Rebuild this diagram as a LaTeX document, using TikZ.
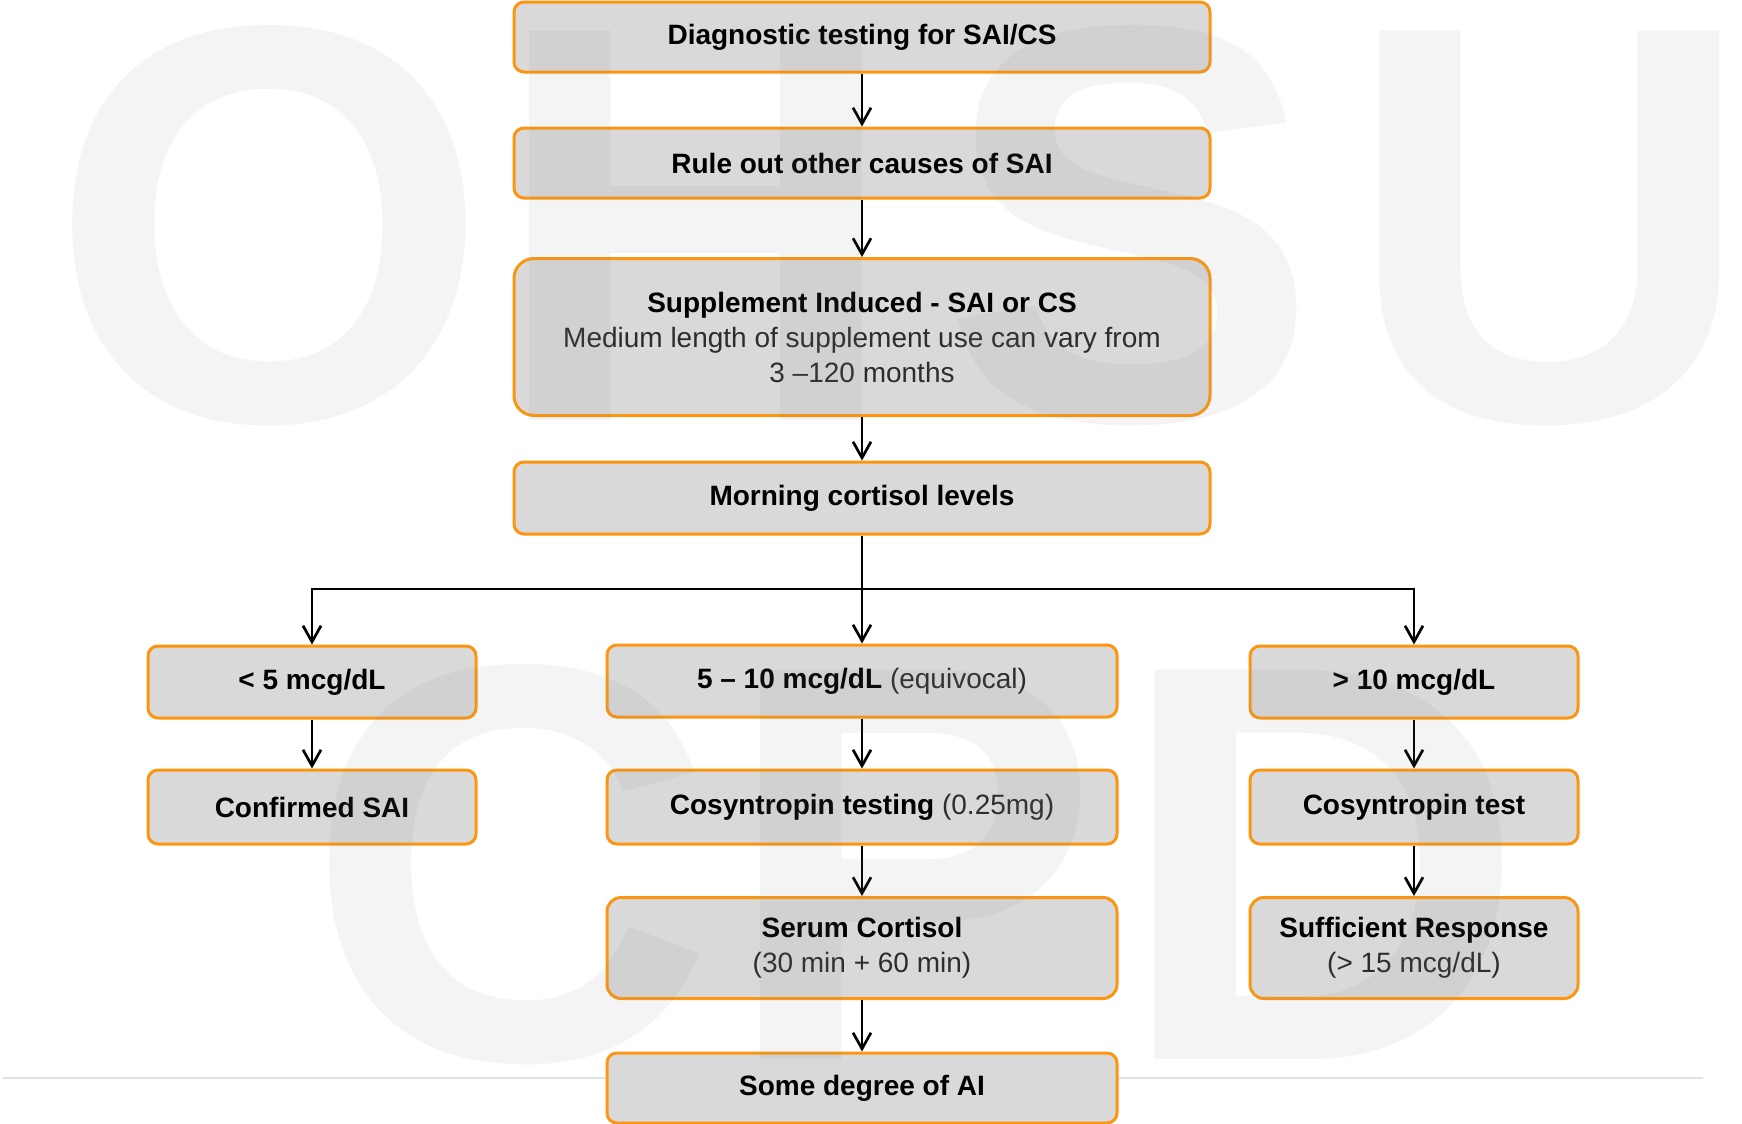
\documentclass[tikz,border=0pt]{standalone}
\usepackage{fontspec}
\setmainfont{Liberation Sans}
\usetikzlibrary{arrows.meta}

\definecolor{boxorange}{RGB}{252,150,18}
\definecolor{boxgray}{RGB}{217,217,217}
\definecolor{plaingray}{RGB}{45,45,45}
\definecolor{rulegray}{RGB}{222,227,237}

\newcommand{\plaintxt}[1]{{\mdseries\color{plaingray}#1}}

\tikzset{
  flowbox/.style={draw=boxorange, fill=boxgray, line width=1.5pt, rounded corners=5pt,
    align=center, inner sep=0pt, font=\fontsize{14pt}{17.5pt}\selectfont\bfseries},
  widebox/.style={flowbox, minimum width=348pt, minimum height=35pt},
  midbox/.style={flowbox, minimum width=255pt, minimum height=36pt},
  sidebox/.style={flowbox, minimum width=164pt, minimum height=36pt},
  watermark/.style={text=black!50, text opacity=0.085, inner sep=0pt, anchor=base,
    font=\fontsize{283pt}{283pt}\selectfont\bfseries}
}

\begin{document}
\begin{tikzpicture}[x=0.5pt, y=-0.5pt, >={Straight Barb[length=8pt, width=9pt]}, line width=1.35pt]
  \useasboundingbox (0,0) rectangle (1742,1124);
  \clip (0,0) rectangle (1742,1124);
  \draw[rulegray, line width=1pt] (2,1078) -- (1703,1078);

  % main column
  \node[widebox] (diag) at (862,37) {Diagnostic testing for SAI/CS};
  \node[widebox] (rule) at (862,163) {Rule out other causes of SAI};
  \node[widebox, minimum height=78.5pt, rounded corners=10pt] (supp) at (862,337)
    {Supplement Induced - SAI or CS\\ \plaintxt{Medium length of supplement use can vary from}\\ \plaintxt{3 –120 months}};
  \node[widebox, minimum height=36pt] (morn) at (862,498) {Morning cortisol levels};

  % three branches
  \node[sidebox] (low) at (312,682) {< 5 mcg/dL};
  \node[midbox] (mid) at (862,681) {5 – 10 mcg/dL \plaintxt{(equivocal)}};
  \node[sidebox] (high) at (1414,682) {> 10 mcg/dL};

  \node[sidebox, minimum height=37pt] (conf) at (312,807) {Confirmed SAI};
  \node[midbox, minimum height=37pt] (cosy) at (862,807) {Cosyntropin testing \plaintxt{(0.25mg)}};
  \node[sidebox, minimum height=37pt] (cost) at (1414,807) {Cosyntropin test};

  \node[midbox, minimum height=50.5pt, rounded corners=7pt] (serum) at (862,948) {Serum Cortisol\\ \plaintxt{(30 min + 60 min)}};
  \node[sidebox, minimum height=50.5pt, rounded corners=7pt] (suff) at (1414,948) {Sufficient Response\\ \plaintxt{(> 15 mcg/dL)}};

  \node[midbox, minimum height=35pt] (some) at (862,1088) {Some degree of AI};

  % connectors
  \coordinate (split) at (862,589);
  \draw[->] (diag) -- (rule);
  \draw[->] (rule) -- (supp);
  \draw[->] (supp) -- (morn);
  \draw (morn) -- (split);
  \draw[->] (split) -- (mid);
  \draw[->] (split) -| (low.north);
  \draw[->] (split) -| (high.north);
  \draw[->] (low) -- (conf);
  \draw[->] (mid) -- (cosy);
  \draw[->] (high) -- (cost);
  \draw[->] (cosy) -- (serum);
  \draw[->] (cost) -- (suff);
  \draw[->] (serum) -- (some);

  % watermark
  \node[watermark] (wmO) at (270,420) {O};
  \node[watermark] (wmH) at (696,420) {H};
  \node[watermark] (wmS) at (1130,420) {S};
  \node[watermark] (wmU) at (1550,420) {U};
  \node[watermark] (wmC) at (511,1059) {C};
  \node[watermark] (wmP) at (911,1059) {P};
  \node[watermark] (wmD) at (1322,1059) {D};
\end{tikzpicture}
\end{document}
